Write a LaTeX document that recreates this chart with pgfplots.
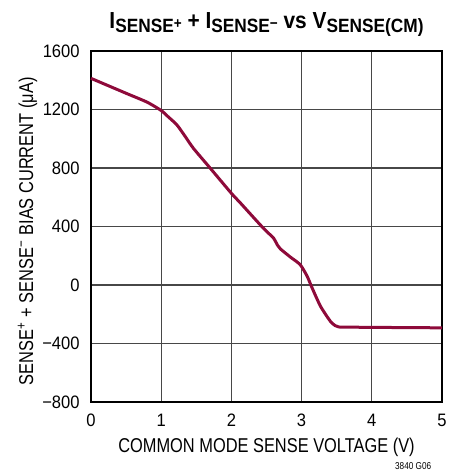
\documentclass[border=0pt]{standalone}
\usepackage{fontspec}
\setmainfont{Liberation Sans}[FakeStretch=0.82]
\newfontfamily\tickfont{Liberation Sans}[FakeStretch=0.92]
\newfontfamily\titlefont{Liberation Sans}[FakeStretch=0.9]
\usepackage{pgfplots}
\pgfplotsset{compat=1.18}
\definecolor{curve}{HTML}{8E0A3A}
\newcommand{\tsub}[1]{\raisebox{-1.9pt}{\fontsize{9.6}{9.6}\selectfont #1}}
\newcommand{\tsup}[1]{\raisebox{1.7pt}{\fontsize{7.5}{7.5}\selectfont #1}}
\begin{document}
\begin{tikzpicture}
\begin{axis}[
  scale only axis,
  width=175.5pt, height=175.5pt,
  xmin=0, xmax=5, ymin=-800, ymax=1600,
  xtick={0,1,2,3,4,5},
  xticklabels={0,1,2,3,4,5},
  ytick={-800,-400,0,400,800,1200,1600},
  yticklabels={−800,−400,0,400,800,1200,1600},
  tick style={draw=none},
  grid=major,
  major grid style={line width=0.6pt, black!72},
  axis line style={line width=0.8pt, black},
  ticklabel style={font=\tickfont\fontsize{9}{10}\selectfont, inner sep=0pt},
  xticklabel style={anchor=base, yshift=-12.3pt},
  yticklabel style={anchor=east, xshift=-5.5pt},
  xlabel={COMMON MODE SENSE VOLTAGE (V)},
  ylabel={SENSE\textsuperscript{+} + SENSE\textsuperscript{−} BIAS CURRENT (μA)},
  label style={font=\fontsize{8.9}{10}\selectfont, inner sep=0pt},
  every axis x label/.style={at={(axis description cs:0.5,-0.1435)}, anchor=base},
  every axis y label/.style={at={(axis description cs:-0.165,0.486)}, anchor=base, rotate=90},
  clip=false,
]
\addplot[curve, line width=1.5pt, smooth, tension=0.4] coordinates {
(0,1413) (0.5,1311) (0.8,1250) (1.0,1193) (1.1,1150) (1.225,1094) (1.35,1010)
(1.46,934) (1.7,798) (2.0,627) (2.13,560) (2.41,412) (2.52,358) (2.60,321)
(2.66,270) (2.70,246) (2.84,191) (2.98,139) (3.08,59) (3.15,-20) (3.27,-146)
(3.41,-248) (3.48,-278) (3.53,-287) (3.7,-288) (4.0,-290) (4.5,-291) (5.0,-293)
};
\node[font=\titlefont\bfseries\fontsize{11.6}{12}\selectfont, anchor=base, inner sep=0pt] at (rel axis cs:0.5,1) [yshift=11.3pt]
  {I\tsub{SENSE\tsup{+}} + I\tsub{SENSE\tsup{−}} vs V\tsub{SENSE(CM)}};
\node[font=\fontsize{5}{6}\selectfont, anchor=base east, inner sep=0pt] at (rel axis cs:1,0) [yshift=-33.5pt, xshift=-5.2pt] {3840 G06};
\end{axis}
\path (current axis.south west) ++(-45.5pt,-35.5pt) rectangle ++(230.5pt,236.5pt);
\end{tikzpicture}
\end{document}
